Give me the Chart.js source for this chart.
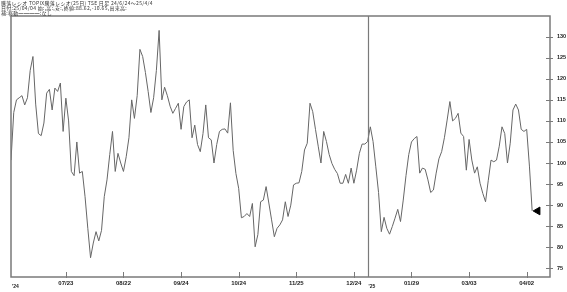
<!DOCTYPE html>
<html>
<head>
<meta charset="utf-8">
<script src="https://cdn.jsdelivr.net/npm/chart.js@4.4.1/dist/chart.umd.min.js"></script>
<style>
  html, body { margin: 0; padding: 0; background: #fff; }
  #wrap { position: relative; width: 567px; height: 292px; }
  #head { position: absolute; left: 1px; top: 0; font-family: "Noto Sans CJK JP", sans-serif;
          font-size: 5px; line-height: 5px; color: #333; white-space: pre; letter-spacing: 0.3px; }
</style>
</head>
<body>
<div id="wrap">
  <canvas id="ratio" width="567" height="292"></canvas>
  <div id="head">騰落レシオ TOPIX騰落レシオ(25日) TSE 日足 24/6/24～25/4/4
日付:25/04/04 始:,高:,安:,終値:88.62,-10.65,出来高:
補:移動━━━━:なし</div>
</div>
<script>
// 騰落レシオ(25日) 日足 値
var ratioValues = [
    100.7, 112, 115, 115.5, 116, 113.8, 115.5, 122, 125.3, 114,
    107, 106.5, 109.5, 116.6, 117.5, 112.6, 117.8, 117, 119, 107.5,
    115.4, 110, 98, 97, 105, 97.6, 98, 92, 84.5, 77.5,
    81, 83.7, 81.5, 84, 92, 96, 102, 107.5, 98, 102.3,
    100, 98, 101.5, 106, 115, 110.6, 116, 127, 125.3, 121.5,
    117, 112, 115.5, 122, 131.5, 115, 118, 116, 113.5, 111.8,
    113, 114.2, 108, 113.4, 114.5, 115, 106, 109, 104.4, 102.7,
    107, 113.8, 106, 105.5, 100, 104.4, 107.5, 108, 108.1, 107.1,
    114.3, 103, 97.5, 94, 87, 87.3, 88, 87.3, 90.4, 80.1,
    83, 90.8, 91.2, 94.4, 90.5, 86.5, 82.5, 84.5, 85.3, 86.5,
    90.8, 87.3, 90, 94.8, 95.2, 95.3, 98, 103.1, 104.7, 114.2,
    112.2, 108, 104, 100, 107.5, 105.1, 102, 99.9, 98.5, 97.5,
    95.2, 95.2, 97.3, 95.2, 98.8, 95.2, 98.3, 102.3, 104.5, 104.5,
    105.1, 108.6, 105.1, 99.1, 93, 83.7, 87.1, 84.5, 83.1, 84.9,
    86.9, 89, 86.1, 91.2, 97, 102, 105, 105.8, 106.3, 97.6,
    98.8, 98.5, 96, 93, 93.6, 97.6, 101, 102.7, 106, 110.2,
    114.6, 110, 110.6, 111.8, 107.1, 106.3, 98.3, 105.6, 100.7, 97.6,
    99.1, 95.2, 92.8, 90.8, 95.9, 100.7, 100.3, 100.7, 104, 108.6,
    107, 100, 104.7, 112.6, 114, 112.6, 108, 107.5, 108, 99.27,
    88.62
];

// 日付目盛 (営業日の通し番号)
var dateTickIndex = [20, 41, 62, 83, 104, 125, 146, 167, 188];
var dateTickText = ['07/23', '08/22', '09/24', '10/24', '11/25', '12/24', '01/29', '03/03', '04/02'];
var yearIndex = [0, 130];
var yearText = ["'24", "'25"];
var valueTicks = [75, 80, 85, 90, 95, 100, 105, 110, 115, 120, 125, 130];

var axisGray = '#7a7a7a';

var points = ratioValues.map(function (v, i) { return { x: i, y: v }; });
var lastIdx = ratioValues.length - 1;

var frame = {
    id: 'frame',
    afterDraw: function (chart) {
        var ctx = chart.ctx, a = chart.chartArea;
        var xs = chart.scales.x, ys = chart.scales.y;
        ctx.save();
        ctx.strokeStyle = axisGray;
        ctx.lineWidth = 1.5;
        ctx.strokeRect(a.left, a.top, a.right - a.left, a.bottom - a.top);
        // 年替わり線
        ctx.lineWidth = 1.2;
        var sx = Math.round(xs.getPixelForValue(yearIndex[1])) + 0.5;
        ctx.beginPath();
        ctx.moveTo(sx, a.top);
        ctx.lineTo(sx, a.bottom);
        ctx.stroke();
        // 目盛線
        ctx.lineWidth = 1;
        dateTickIndex.forEach(function (t) {
            var px = Math.round(xs.getPixelForValue(t)) + 0.5;
            ctx.beginPath();
            ctx.moveTo(px, a.bottom - 5);
            ctx.lineTo(px, a.bottom + 1);
            ctx.stroke();
        });
        valueTicks.forEach(function (t) {
            var py = Math.round(ys.getPixelForValue(t)) + 0.5;
            ctx.beginPath();
            ctx.moveTo(a.right - 4, py);
            ctx.lineTo(a.right + 3, py);
            ctx.stroke();
        });
        // 年ラベル
        ctx.fillStyle = '#222';
        ctx.font = 'bold 5px Arial';
        ctx.textBaseline = 'middle';
        yearIndex.forEach(function (t, k) {
            ctx.fillText(yearText[k], xs.getPixelForValue(t) + 1, 287);
        });
        ctx.restore();
    }
};

new Chart(document.getElementById('ratio').getContext('2d'), {
    type: 'line',
    data: {
        datasets: [{
            data: points,
            borderColor: '#666',
            borderWidth: 1,
            pointRadius: 0,
            tension: 0,
            fill: false
        }, {
            data: [{ x: lastIdx + 2, y: ratioValues[lastIdx] }],
            showLine: false,
            pointStyle: 'triangle',
            rotation: -90,
            pointRadius: 4.5,
            backgroundColor: '#000',
            borderColor: '#000',
            borderWidth: 1
        }]
    },
    options: {
        responsive: false,
        devicePixelRatio: 1,
        animation: false,
        layout: { padding: { left: 11, top: 16, right: 0, bottom: 0 } },
        plugins: { legend: { display: false }, tooltip: { enabled: false } },
        scales: {
            x: {
                type: 'linear',
                min: 0,
                max: 196.5,
                grid: { display: false, drawTicks: false, tickLength: 0 },
                border: { display: false },
                afterBuildTicks: function (s) {
                    s.ticks = dateTickIndex.map(function (v) { return { value: v }; });
                },
                afterFit: function (s) { s.height = 15; },
                ticks: {
                    autoSkip: false,
                    maxRotation: 0,
                    padding: 3,
                    color: '#222',
                    font: { family: 'Arial', size: 6, weight: 'bold' },
                    callback: function (v) {
                        var k = dateTickIndex.indexOf(v);
                        return k >= 0 ? dateTickText[k] : '';
                    }
                }
            },
            y: {
                position: 'right',
                min: 72.93,
                max: 134.92,
                grid: { display: false, drawTicks: false, tickLength: 0 },
                border: { display: false },
                afterBuildTicks: function (s) {
                    s.ticks = valueTicks.map(function (v) { return { value: v }; });
                },
                afterFit: function (s) { s.width = 17; },
                ticks: {
                    padding: 7,
                    color: '#222',
                    font: { family: 'Arial', size: 5.5, weight: 'bold' }
                }
            }
        }
    },
    plugins: [frame]
});
</script>
</body>
</html>
